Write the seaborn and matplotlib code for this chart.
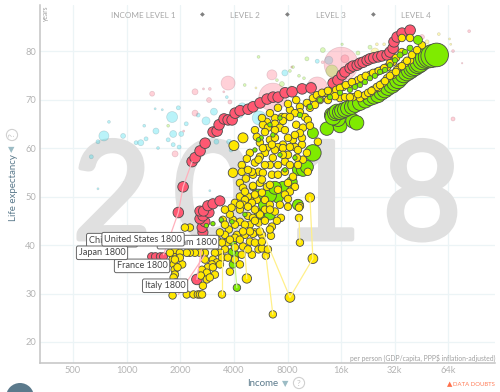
import numpy as np
import pandas as pd
import seaborn as sns
import matplotlib
matplotlib.use("Agg")
import matplotlib.pyplot as plt
import matplotlib.patheffects as pe
from matplotlib.patches import Circle
from matplotlib.transforms import IdentityTransform

# ---------- data: income (GDP/capita), life expectancy, population-like bubble weight ----------
x_ticks = [500, 1000, 2000, 4000, 8000, 16000, 32000, 64000]
x_tick_labels = ["500", "1000", "2000", "4000", "8000", "16k", "32k", "64k"]
y_ticks = [20, 30, 40, 50, 60, 70, 80]

blue_income = [745,955,690,633,1130,1200,1285,1460,1255,795,1445,1585,1950,1800,2160,1825,2025,1710,1825,1970,1500,2520,2790,3090,3190,3760,3860,4455,4320,3650,690,2930,5550,7730,10850,11750,13650]
blue_life = [62.5,62.5,61.3,58.2,61.1,61.1,61.9,63.5,64.6,65.4,68.1,67.9,68.3,66.4,65,62.9,62.9,61.7,60.7,60.2,60,66.8,65.6,67.5,61.3,61.3,59.6,68.5,66.8,70.5,51.6,51.2,66.2,75.5,72.6,77.9,78.1]
blue_pop = [25,6,4,4,4,9,4,9,2,2,1,1,4,30,4,12,6,4,4,4,2,4,16,12,6,6,4,16,9,2,1,1,49,9,25,4,16]

pink_income = [1870,1390,2420,2420,2900,2700,2930,3510,3710,3800,2090,6540,6620,11750,16000,16800,8450,83750,68000,68000,76500,45500,12600]
pink_life = [58.8,71.2,71.6,67.2,69.9,72.2,72.2,71.6,73.4,69.5,63.5,75.1,70.5,72.6,77.3,78.4,76.7,84.1,80,66,77.5,82.9,77.7]
pink_pop = [9,6,9,9,6,1,2,1,49,4,1,25,196,100,289,16,1,2,2,4,0.5,6,2]

lime_income = [4600,1710,5500,7440,6980,8255,8590,9280,9900,10280,12630,16200,14200,19900,23240]
lime_life = [73,64.6,78.8,73.2,74,75.9,76.7,74.9,74.4,78.4,80.2,81.4,75.9,79.6,80.8]
lime_pop = [2,2,2,6,2,2,2,2,2,4,6,1.5,36,4,4]

sand_income = [5320,25400,27900,24790,56600,65000,66000,48600,8360]
sand_life = [72.4,81.4,81.4,79.8,83.5,82.5,81.4,81.9,72.4]
sand_pop = [1,2,2,16,2,1,1,4,4]

red0_income = [1380,1450,1545,1610]
red0_life = [37.6,37.6,37.6,37.6]
red0_pop = 16
red_income = [2480,1950,2074,2330,2422,2583,2757,3057,3220,3304,3523,3712,3908,4062,4335,4807,5127,5614,6145,6640,7086,7756,8493,9660,10850,14430,15350,16200,16820,17980,18650,19700,20420,21270,22400,23270,24400,25800,27100,29000,30100,31340,31700,33000,35200,39050]
red_life = [32.9,46.7,52,57.2,58,59.4,61,63.3,63.5,64.8,66,65.8,65.8,67.2,67.7,68,68.5,69.3,70.1,70.5,70.5,71.4,71.6,72.2,72.4,73.4,74,75.1,75.7,76.5,76.9,77.1,77.5,77.7,78.1,78.4,78.6,78.8,79,79.2,79.8,80.6,81.9,82.9,83.7,84.3]
red_pop = 28
red2_income = [2680,2650,2750,2578,2680,2900,2578,2700,2855,3050,3339]
red2_life = [42.6,43.6,44.8,45.4,46,46.7,47,47,48.1,48.5,49.1]
red2_pop = 26

green_out_income = [15760,18650,19550,13300,14200,15350]
green_out_life = [64.6,65.6,65.2,64,66.8,66]
green_out_pop = [49,52,52,45,56,56]
green_income = [14400,14780,15100,15760,16200,16820,17500,18400,19200,20420,21900,23240,24500,25800,27000,28210,29400,30900,32100,33400,34600,36000,37500,38980,40300,41580,43200,44360,46000,47900,50000,52000,55000]
green_life = [66.4,67.2,67.5,67.4,67.7,67.9,68.2,68.5,68.9,69.3,69.8,70.3,70.6,70.9,71.5,72,72.5,73,73.5,74,74.6,75.3,75.7,76.1,76.5,76.9,77.3,77.7,78.2,78.6,78.8,79,79.2]
green_pop = [64,56,56,56,56,56,56,56,56,56,56,56,56,56,60,64,64,68,68,72,72,80,80,80,80,90,90,100,100,110,120,130,140]
green2_income = [9160,11110,11110,7540,8450,7070,9160,5600,5975,6374,6800,9770,10280,5975,5500,6374,4160,3950,4110,3900,3950]
green2_life = [55.5,59,63.1,52,53,49.8,48.3,46.3,48.3,50.2,51.8,55.5,56.1,46.3,50.4,46.3,31.2,36,38,38.6,40.5]
green2_pop = [30,68,30,30,30,30,30,30,42,42,42,42,42,30,30,30,14,14,14,14,14]

yellow_income = [5250,6130,6800,7440,8255,9395,10280,11110,12170,13850,15760,18650,21200,23240,25800,27500,31300,34250,38980,45500,35100,38980,
 11700,13850,16400,18650,21200,25400,29000,12980,15000,17500,19900,23240,27100,31300,
 20420,21780,24200,25400,29000,30900,32900,36540,16820,14780,
 9395,10690,8807,7738,10020,10400,8255,7540,6800,5820,12170,13500,11410,
 11850,10280,10400,9395,8807,8050,8590,7738,8255,9770,9650,9650,8590,8050,7540,6374,6130,5975,5250,5500,5820,6540,7070,5120,5120,5600,6130,5050,5380,5975,9040,8807,6800,6210,7070,5600,6620,6374,8255,7738,5600,8050,7540,5975,
 4921,4730,4430,4430,5050,4670,4324,5120,4500,4800,4324,4613,4053,5050,4500,
 3470,3750,4160,4800,4324,3950,3562,3650,4053,4500,4921,5250,5500,5500,5050,4430,4053,3562,3339,3130,3050,3210,3010,2855,3050,2650,2820,2610,2820,2680,3430,3800,
 2750,2578,2416,2265,2175,2050,2265,2123,2175,2370,2510,2578,2650,1810,1810,1835,1860,1866,1835,1890,1810,1866,1990,1810,
 9280,9280,9395,6620,6050,5750,6460,7350,8050,6980,6540,5750,5120,5120,8050,
 5975,6374,6800,5600,4921,4613,4053,3562,4324,3800,3210,2855,3339,4053,4324]
yellow_life = [63.7,65.4,66.2,66.4,67.9,68.5,69.3,70.3,70.9,70.9,70.3,70.5,70.7,71.4,72.4,73.4,75.1,76.7,78.1,81.2,82.7,82.7,
 70.9,71.6,72.6,73.6,74.4,75.7,76.7,71.4,72,73,74,75.1,76.1,77.7,
 70.3,70.9,72,72.6,74.4,75.3,76.1,77.5,70.5,70.7,
 67.4,68.3,67.2,66.4,66.4,65.8,66.4,65.6,65,64.8,69.9,69.9,68.9,
 61.3,59,55.1,48,52,52.8,54.1,57.2,56.5,57.6,60.7,62.1,61.7,62.1,60.7,61.7,60,59,57,55.1,54.9,54.5,54.5,54.5,52,52.8,52,49.8,49.3,49.3,58,60.2,62.1,64.2,60.2,58.2,58,56.5,51,50.4,61.1,58.6,60,63.3,
 59,57.8,56.5,55.1,55.1,53.7,52.8,52.2,51.8,50,50,49.3,48.7,48.7,48.3,
 45.2,43.2,42.1,46,44.8,45.2,44.2,40.5,41.5,39.7,40.7,42.6,44.6,39.1,38,38,39.5,39.1,38.4,38.4,37,36.4,36,35.4,35.4,34.9,34.3,33.7,32.9,31.6,29.8,34.5,
 38.4,38.4,38.4,38.4,38.4,36,43.6,43.6,29.8,29.8,29.8,29.8,29.8,38,37,36,34.9,33.9,33.3,32.3,29.6,39,38.4,41.1,
 47.7,45.6,40.5,25.7,37.8,39.3,41.9,45.6,47.9,45,43.8,42.1,42.3,45.6,49.5,
 47.3,48.3,46.9,46.3,44.2,42.1,44.2,42.1,47.3,46.3,41.1,40.1,42.6,37,36]
yellow_pop = 14
yellow2_income = [8950,9770,10690,9395,8807,7254,7738,6800,5750,6374,7070,8050,8950,5380,5820,6800,7540,9160,8255,6540,7070,7738,9160,5975,5500,4800,5750,6374,7070,4613,5250,5750,6374,7254,5250,4800,4324,3880,3562,4613,5250,5975,6374,5600,4921,4324,3800,3430,3130,2750,3430,3700,3339,3130,2930,4800,5250,5750,6210,4500,1990,1866,1930,1750,1890,
 17940,19900,22700,23700,26450,28210,30100,32500,35100,37500,40000,42700,12500,13500,15760,17000,18400,20700,22000,24200,26000,27900,30100,32500,35100]
yellow2_life = [64.8,64.2,64.6,63.1,62.7,64.2,63.7,63.7,66.2,67.2,68.3,69.1,69.9,62.3,60,59.6,58.6,59.6,60.2,60.7,56.5,55.1,56.5,56.5,57.6,55.5,53.5,52.4,51.4,51,50.4,50.8,47.3,48.3,47.3,47.9,48.3,47.7,47.3,44.2,45,45,43.2,42.8,42.8,41.1,41.1,40.5,40.1,37,37.4,37.4,36,33.9,33.3,39.1,40.5,40.7,39.1,42.8,37.4,37,35.4,38.4,40.1,
 70.5,71.1,71.4,71.8,73,73.8,74.9,75.7,76.9,78,79.2,80.2,71.4,71.8,72.4,73,73.6,74.4,74.9,75.5,75.9,76.5,77.5,78.6,79.8]
big_yellow_income = [4500,4000,3950,10690,11110,8255,4730]
big_yellow_life = [62.1,60.5,54.9,49.8,37.2,29.2,33.1]
big_yellow_pop = [25,25,22,22,24,24,22]

tiny_income = [9395,10690,12170,13850,15760,17940,20420,23240,26450,30100,34250,38980,43200,19140,21780,24790,28210,32100,36540,6374,7254,2800,3050,3400,3900,4613,6620,5700,5500,7254,8807,5250,7738]
tiny_life = [66.8,68.5,69.9,70.5,71.4,72,73,74.4,75.7,77.1,79.2,80.6,82.3,72.6,73.6,74.9,76.1,78.1,79.8,64.8,66.2,44,44.4,45.2,44.8,46.3,62.7,62.1,61.7,58.6,58,59.6,55.5]
tiny_pop = [7,7,7,7,7,7,7,7,7,7,9,9,20,7,7,7,7,7,7,5,5,5,5,5,5,5,5,5,5,5,5,5,5]

# pale time-trail lines
trail_y_income = [[10690,11110,8255,5600],[9280,9395],[6050,6620],[3430,3430],[4730,4600]]
trail_y_life = [[49.8,37.2,29.2,44],[45.6,40.5],[37.8,25.7],[29.8,39],[33.1,39]]
trail_r_income = [[1610,1950,2074,2330],[2480,2650],[1950,2750]]
trail_r_life = [[38,46.7,52,57.2],[32.9,40],[29.8,38]]
trail_g_income = [[4160,3950]]
trail_g_life = [[31.2,40.5]]

label_names = ["China 1800", "Vietnam 1800", "France 1800", "Italy 1800", "Japan 1800", "United States 1800"]
label_income = [828, 2210, 1220, 1643, 727, 1236]
label_life = [41, 40.6, 35.7, 31.6, 38.4, 41.2]

# ---------- drawing ----------
W, H = 500, 392
sns.set_theme(style="white")
plt.rcParams["font.family"] = ["Lato", "DejaVu Sans"]
fig = plt.figure(figsize=(W/100, H/100), dpi=100)
L, R, T, B = 39.5, 495, 5, 362.7
ax = fig.add_axes([L/W, 1-B/H, (R-L)/W, (B-T)/H])
ax.set_xscale("log", base=2)
ax.set_xlim(324, 117000)
ax.set_ylim(15.73, 89.5)

def bubbles(income, life, pop, color, edge="#4a4a4a", alpha=1.0, lw=0.6):
    df = pd.DataFrame({"income": income, "life": life, "pop": pop})
    sns.scatterplot(data=df, x="income", y="life", size="pop", sizes=(0, 2070), size_norm=(0, 1000),
                    color=color, edgecolor=edge, alpha=alpha, linewidth=lw, legend=False, ax=ax)

def trail(income, life, color):
    for xs, ys in zip(income, life):
        df = pd.DataFrame({"income": xs, "life": ys})
        sns.lineplot(data=df, x="income", y="life", sort=False, estimator=None, color=color, lw=0.9, ax=ax)

px = lambda x, y: (x/W, 1-y/H)
for ch, cx in zip("2018", [112, 213, 322, 422]):
    ax.text(*px(cx, 239), ch, transform=fig.transFigure, ha="center", va="baseline", fontsize=98,
            color="#e0e0e0", zorder=0.9, clip_on=False,
            path_effects=[pe.withStroke(linewidth=3.5, foreground="#e0e0e0")])

bubbles(blue_income, blue_life, blue_pop, "#00d5e9", edge="#557f88", alpha=0.27, lw=0.5)
bubbles(pink_income, pink_life, pink_pop, "#ff5872", edge="#a06070", alpha=0.27, lw=0.5)
bubbles(lime_income, lime_life, lime_pop, "#7feb00", edge="#608050", alpha=0.27, lw=0.5)
bubbles(sand_income, sand_life, sand_pop, "#ffe700", edge="#808050", alpha=0.27, lw=0.5)

trail(trail_r_income, trail_r_life, "#ffb0bc")
trail(trail_y_income, trail_y_life, "#fff08a")
trail(trail_g_income, trail_g_life, "#c5f590")

bubbles(red0_income, red0_life, red0_pop, "#ff5872")
bubbles(red_income, red_life, red_pop, "#ff5872")
bubbles(red2_income, red2_life, red2_pop, "#ff5872")
bubbles(green_out_income, green_out_life, green_out_pop, "#7feb00")
bubbles(green_income, green_life, green_pop, "#7feb00")
bubbles(green2_income, green2_life, green2_pop, "#7feb00")
bubbles(yellow_income, yellow_life, yellow_pop, "#ffe700")
bubbles(yellow2_income, yellow2_life, yellow_pop, "#ffe700")
bubbles(big_yellow_income, big_yellow_life, big_yellow_pop, "#ffe700")
bubbles(tiny_income, tiny_life, tiny_pop, "#7feb00", lw=0.5)

for name, xv, yv in zip(label_names, label_income, label_life):
    ax.text(xv, yv, name, ha="center", va="center", fontsize=6.6, color="#444444", zorder=10,
            bbox=dict(boxstyle="round,pad=0.25,rounding_size=0.2", fc="white", ec="#666666", lw=0.7))

ax.set_xticks(x_ticks)
ax.set_xticklabels(x_tick_labels)
ax.set_yticks(y_ticks)
ax.set_yticklabels([str(v) for v in y_ticks])
ax.minorticks_off()
ax.tick_params(axis="both", length=0, labelsize=6.7, labelcolor="#b4b4b4")
ax.tick_params(axis="x", pad=2.5)
ax.tick_params(axis="y", pad=2.5)
ax.grid(True, color="#ecf4f6", lw=0.9)
ax.set_axisbelow(True)
ax.set_xlabel("")
ax.set_ylabel("")
sns.despine(ax=ax, top=True, right=True)
for s in ("left", "bottom"):
    ax.spines[s].set_color("#c4c4c4")
    ax.spines[s].set_linewidth(1.1)

# header and annotations
for txt, cx in [("INCOME LEVEL 1", 143.5), ("LEVEL 2", 245), ("LEVEL 3", 330.5), ("LEVEL 4", 415.5)]:
    fig.text(*px(cx, 15), txt, ha="center", va="center", fontsize=5.9, color="#a8a8a8")
for cx in [202, 287, 373]:
    fig.text(*px(cx, 14.5), "\u25c6", ha="center", va="center", fontsize=4.5, color="#808080", family="DejaVu Sans")
fig.text(*px(45, 13), "years", rotation=90, ha="center", va="center", fontsize=4.8, color="#a0a0a0")
fig.text(*px(495, 358), "per person (GDP/capita, PPP$ inflation-adjusted)", ha="right", va="center", fontsize=4.9, color="#a0a0a0")

AXC = "#5b7a8c"
fig.text(*px(13, 221), "Life expectancy", rotation=90, ha="center", va="bottom", fontsize=7, color=AXC)
fig.text(*px(11.5, 150), "\u25bc", rotation=0, ha="center", va="center", fontsize=6, color="#9cbcc5", family="DejaVu Sans")
fig.text(*px(12, 135), "?", rotation=90, ha="center", va="center", fontsize=6, color="#c4c4c4",
         bbox=dict(boxstyle="circle,pad=0.25", fc="white", ec="#d0d0d0", lw=0.8))
fig.text(*px(247, 383.5), "Income", ha="left", va="center", fontsize=7, color=AXC)
fig.text(*px(285, 383.5), "\u25bc", ha="center", va="center", fontsize=6, color="#9cbcc5", family="DejaVu Sans")
fig.text(*px(299, 383), "?", ha="center", va="center", fontsize=6, color="#c4c4c4",
         bbox=dict(boxstyle="circle,pad=0.25", fc="white", ec="#d0d0d0", lw=0.8))
fig.text(*px(447, 384), "\u25b2", ha="left", va="center", fontsize=5, color="#ff6f4a", family="DejaVu Sans")
fig.text(*px(495, 384), "DATA DOUBTS", ha="right", va="center", fontsize=4.3, color="#ff7f5a")

fig.add_artist(Circle((20, H-397), 14, transform=IdentityTransform(), fc="#5b7a8c", ec="none"))

fig.savefig("out.png", dpi=100)
